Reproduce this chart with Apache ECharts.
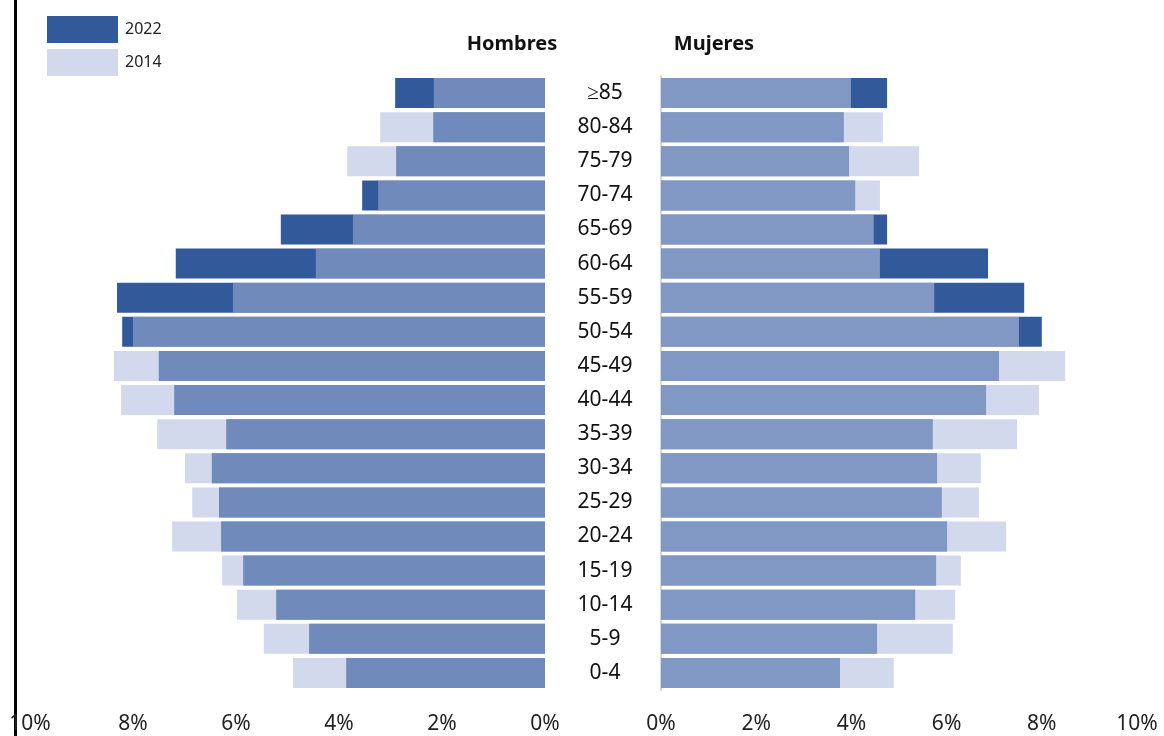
<!DOCTYPE html>
<html>
<head>
<meta charset="utf-8">
<script src="https://cdn.jsdelivr.net/npm/echarts@6/dist/echarts.min.js"></script>
<style>html,body{margin:0;padding:0;background:#fff}#c{width:1164px;height:736px}</style>
</head>
<body>
<div id="c"></div>
<script>
const ageGroups = ['0-4','5-9','10-14','15-19','20-24','25-29','30-34','35-39','40-44','45-49','50-54','55-59','60-64','65-69','70-74','75-79','80-84','≥85'];
const men2022 = [3.86,4.58,5.22,5.86,6.29,6.33,6.47,6.19,7.20,7.50,8.21,8.31,7.17,5.13,3.55,2.89,2.17,2.91];
const men2014 = [4.89,5.46,5.98,6.27,7.24,6.85,6.99,7.53,8.23,8.37,8.00,6.06,4.45,3.73,3.24,3.84,3.20,2.16];
const women2022 = [3.76,4.54,5.34,5.78,6.01,5.90,5.80,5.71,6.83,7.10,8.00,7.63,6.87,4.75,4.08,3.95,3.84,4.75];
const women2014 = [4.89,6.13,6.18,6.30,7.25,6.68,6.72,7.48,7.94,8.49,7.52,5.74,4.60,4.47,4.60,5.42,4.66,3.99];
const xTicks = [0,2,4,6,8,10];

const FONT = 'Noto Sans';
const dark = '#325a9b';
const lightL = 'rgba(170,182,218,0.52)';
const lightR = 'rgba(182,192,223,0.6)';

const chart = echarts.init(document.getElementById('c'), null, {renderer:'canvas'});
const xAxisCommon = {
  type:'value', min:xTicks[0], max:xTicks[xTicks.length-1], interval:2,
  axisLine:{show:false}, axisTick:{show:false}, splitLine:{show:false},
  axisLabel:{formatter:'{value}%', fontFamily:FONT, fontSize:21, color:'#222', margin:24}
};
chart.setOption({
  animation:false,
  textStyle:{fontFamily:FONT},
  legend:{
    orient:'vertical', left:47, top:16, padding:0, itemWidth:71, itemHeight:27, itemGap:6,
    icon:'rect', textStyle:{fontFamily:FONT, fontSize:16, color:'#222', padding:[0,0,26,2]},
    data:[{name:'2022', itemStyle:{color:dark}}, {name:'2014', itemStyle:{color:'#d3d9ec'}}]
  },
  graphic:[
    {type:'rect', shape:{x:14, y:0, width:3, height:736}, style:{fill:'#000'}},
    {type:'text', style:{text:'Hombres', x:512, y:44, align:'center', verticalAlign:'middle', font:'bold 20px "Noto Sans"', fill:'#111'}},
    {type:'text', style:{text:'Mujeres', x:714, y:44, align:'center', verticalAlign:'middle', font:'bold 20px "Noto Sans"', fill:'#111'}}
  ],
  grid:[
    {left:30, right:619, top:76, bottom:46},
    {left:661, right:27, top:76, bottom:46}
  ],
  xAxis:[
    Object.assign({gridIndex:0, inverse:true}, xAxisCommon),
    Object.assign({gridIndex:1}, xAxisCommon)
  ],
  yAxis:[
    {type:'category', gridIndex:0, data:ageGroups, position:'right', axisLine:{show:false}, axisTick:{show:false}, axisLabel:{show:false}},
    {type:'category', gridIndex:1, data:ageGroups, position:'left',
     axisLine:{show:true, lineStyle:{color:'#d9d9d9', width:2}}, axisTick:{show:false},
     axisLabel:{align:'center', margin:56, fontFamily:FONT, fontSize:21, color:'#111', padding:[3,0,0,0]}}
  ],
  series:[
    {name:'2022', type:'bar', xAxisIndex:0, yAxisIndex:0, data:men2022, barCategoryGap:'12%', itemStyle:{color:dark}},
    {name:'2014', type:'bar', xAxisIndex:0, yAxisIndex:0, data:men2014, barGap:'-100%', barCategoryGap:'12%', itemStyle:{color:lightL}},
    {name:'2022', type:'bar', xAxisIndex:1, yAxisIndex:1, data:women2022, barCategoryGap:'12%', itemStyle:{color:dark}},
    {name:'2014', type:'bar', xAxisIndex:1, yAxisIndex:1, data:women2014, barGap:'-100%', barCategoryGap:'12%', itemStyle:{color:lightR}}
  ]
});
</script>
</body>
</html>
